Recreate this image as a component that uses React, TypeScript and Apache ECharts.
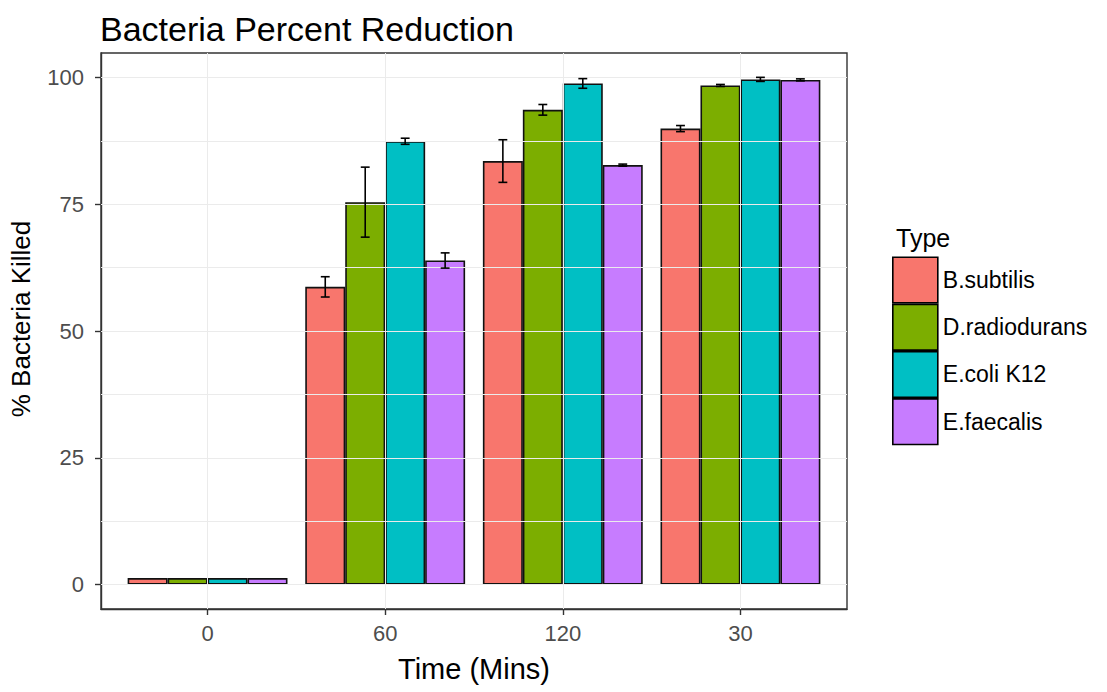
import React, { useEffect, useRef } from "react";
import * as echarts from "echarts";

const timeLabels = ["0", "60", "120", "30"];
const timePositions = [1, 2, 3, 4];
const typeNames = ["B.subtilis", "D.radiodurans", "E.coli K12", "E.faecalis"];
const typeColors = ["#F8766D", "#7CAE00", "#00BFC4", "#C77CFF"];

const bSubtilis = [1.3, 58.7, 83.5, 89.9];
const dRadiodurans = [1.3, 75.4, 93.6, 98.4];
const eColiK12 = [1.3, 87.4, 98.8, 99.6];
const eFaecalis = [1.3, 63.9, 82.7, 99.5];

const bSubtilisSd = [0, 2.0, 4.2, 0.6];
const dRadioduransSd = [0, 6.9, 1.05, 0.2];
const eColiK12Sd = [0, 0.6, 0.95, 0.4];
const eFaecalisSd = [0, 1.5, 0.2, 0.2];

const yTicks = [0, 25, 50, 75, 100];
const yMinor = [12.5, 37.5, 62.5, 87.5];

const FONT = "'Liberation Sans', Arial, sans-serif";

export default function App() {
  const ref = useRef<HTMLDivElement>(null);
  useEffect(() => {
    document.body.style.margin = "0";
    if (!ref.current) return;
    const chart = echarts.init(ref.current, null, { renderer: "svg" });
    const means = [bSubtilis, dRadiodurans, eColiK12, eFaecalis];
    const sds = [bSubtilisSd, dRadioduransSd, eColiK12Sd, eFaecalisSd];

    const barSeries = typeNames.map((name, k) => ({
      type: "bar",
      name,
      data: timePositions.map((x, i) => [x, means[k][i]]),
      barWidth: "22.5%",
      barGap: "0%",
      z: 3,
      itemStyle: { color: typeColors[k], borderColor: "#111", borderWidth: 1.6 },
      emphasis: { disabled: true },
    }));

    const errData: number[][] = [];
    typeNames.forEach((_, k) => {
      timePositions.forEach((x, i) => {
        if (sds[k][i] > 0) {
          errData.push([x, means[k][i] - sds[k][i], means[k][i] + sds[k][i], k]);
        }
      });
    });

    const gridLineStyle = { color: "#EBEBEB", width: 1, type: "solid" };

    chart.setOption({
      animation: false,
      textStyle: { fontFamily: FONT },
      title: [
        {
          text: "Bacteria Percent Reduction",
          left: 100,
          top: 12,
          padding: 0,
          textStyle: { fontFamily: FONT, fontSize: 34, fontWeight: "normal", color: "#000" },
        },
        {
          text: "Type",
          left: 896,
          top: 225,
          padding: 0,
          textStyle: { fontFamily: FONT, fontSize: 25, fontWeight: "normal", color: "#000" },
        },
      ],
      legend: {
        data: typeNames,
        orient: "vertical",
        left: 892,
        top: 256.5,
        padding: 0,
        itemWidth: 45,
        itemHeight: 45.6,
        itemGap: 0,
        icon: "rect",
        itemStyle: { borderColor: "#000", borderWidth: 1.6 },
        textStyle: { fontFamily: FONT, fontSize: 23, color: "#000" },
      },
      grid: {
        left: 100,
        top: 53,
        width: 747,
        height: 556,
        show: true,
        borderColor: "#333333",
        borderWidth: 1.4,
        backgroundColor: "#fff",
      },
      xAxis: {
        type: "value",
        min: 0.4,
        max: 4.6,
        name: "Time (Mins)",
        nameLocation: "middle",
        nameGap: 45,
        nameTextStyle: { fontFamily: FONT, fontSize: 29, color: "#000" },
        axisLine: { show: true, onZero: false, lineStyle: { color: "#333333", width: 1.4 } },
        axisTick: { show: true, length: 6, customValues: timePositions, lineStyle: { color: "#333333", width: 1.4 } },
        axisLabel: {
          customValues: timePositions,
          formatter: (v: number) => timeLabels[Math.round(v) - 1] ?? "",
          fontFamily: FONT,
          fontSize: 22,
          color: "#4D4D4D",
          margin: 13,
        },
        splitLine: { show: false },
      },
      yAxis: {
        type: "value",
        min: -4.8,
        max: 104.8,
        name: "% Bacteria Killed",
        nameLocation: "middle",
        nameGap: 67,
        nameTextStyle: { fontFamily: FONT, fontSize: 26, color: "#000", padding: [0, 0, 0, 24] },
        axisLine: { show: true, onZero: false, lineStyle: { color: "#333333", width: 1.4 } },
        axisTick: { show: true, length: 6, customValues: yTicks, lineStyle: { color: "#333333", width: 1.4 } },
        axisLabel: {
          customValues: yTicks,
          fontFamily: FONT,
          fontSize: 22,
          color: "#4D4D4D",
          margin: 17,
        },
        splitLine: { show: false },
      },
      series: [
        {
          type: "line",
          name: "grid",
          data: [],
          z: 1,
          silent: true,
          markLine: {
            silent: true,
            symbol: "none",
            label: { show: false },
            lineStyle: gridLineStyle,
            emphasis: { disabled: true },
            data: [
              ...yTicks.map((v) => ({ yAxis: v })),
              ...yMinor.map((v) => ({ yAxis: v })),
              ...timePositions.map((v) => ({ xAxis: v })),
            ],
          },
        },
        ...barSeries,
        {
          type: "custom",
          name: "errorbars",
          z: 5,
          silent: true,
          data: errData,
          encode: { x: 0, y: [1, 2] },
          renderItem: (params: any, api: any) => {
            const x = api.value(0);
            const lo = api.value(1);
            const hi = api.value(2);
            const k = api.value(3);
            const unit = api.size([1, 0])[0];
            const off = (k - 1.5) * unit * 0.225;
            const hw = unit * 0.025;
            const pTop = api.coord([x, hi]);
            const pBot = api.coord([x, lo]);
            const cx = pTop[0] + off;
            const style = { stroke: "#000", lineWidth: 1.6 };
            return {
              type: "group",
              children: [
                { type: "line", shape: { x1: cx, y1: pTop[1], x2: cx, y2: pBot[1] }, style },
                { type: "line", shape: { x1: cx - hw, y1: pTop[1], x2: cx + hw, y2: pTop[1] }, style },
                { type: "line", shape: { x1: cx - hw, y1: pBot[1], x2: cx + hw, y2: pBot[1] }, style },
              ],
            };
          },
        },
      ],
    });
    return () => chart.dispose();
  }, []);
  return <div ref={ref} style={{ width: 1107, height: 692 }} />;
}
